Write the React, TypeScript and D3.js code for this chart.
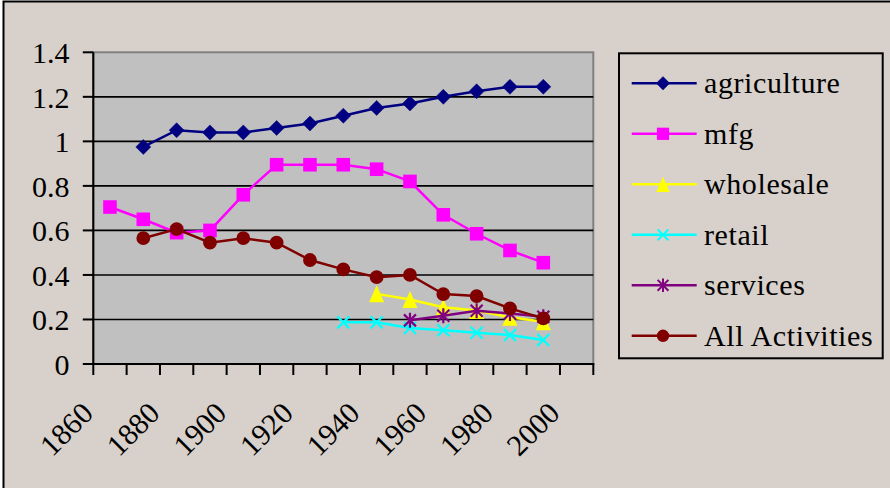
import React from "react";
import * as d3 from "d3";

const years = [1860, 1870, 1880, 1890, 1900, 1910, 1920, 1930, 1940, 1950, 1960, 1970, 1980, 1990, 2000];
const agriculture = [null, 0.975, 1.05, 1.04, 1.04, 1.06, 1.08, 1.115, 1.15, 1.17, 1.2, 1.225, 1.245, 1.245, null];
const mfg = [0.705, 0.65, 0.59, 0.6, 0.76, 0.895, 0.895, 0.895, 0.875, 0.82, 0.67, 0.585, 0.51, 0.455, null];
const wholesale = [null, null, null, null, null, null, null, null, 0.315, 0.29, 0.255, 0.24, 0.21, 0.19, null];
const retail = [null, null, null, null, null, null, null, 0.187, 0.187, 0.162, 0.152, 0.14, 0.13, 0.108, null];
const services = [null, null, null, null, null, null, null, null, null, 0.196, 0.217, 0.239, 0.227, 0.212, null];
const allActivities = [null, 0.565, 0.606, 0.545, 0.565, 0.545, 0.467, 0.425, 0.39, 0.4, 0.314, 0.305, 0.25, 0.205, null];
const yTicks = [0, 0.2, 0.4, 0.6, 0.8, 1, 1.2, 1.4];
const xLabelYears = [1860, 1880, 1900, 1920, 1940, 1960, 1980, 2000];

type Marker = "diamond" | "square" | "triangle" | "x" | "asterisk" | "circle";
const series: { name: string; values: (number | null)[]; color: string; marker: Marker }[] = [
  { name: "agriculture", values: agriculture, color: "#000080", marker: "diamond" },
  { name: "mfg", values: mfg, color: "#FF00FF", marker: "square" },
  { name: "wholesale", values: wholesale, color: "#FFFF00", marker: "triangle" },
  { name: "retail", values: retail, color: "#00FFFF", marker: "x" },
  { name: "services", values: services, color: "#800080", marker: "asterisk" },
  { name: "All Activities", values: allActivities, color: "#800000", marker: "circle" },
];

const W = 890;
const H = 488;
const plot = { left: 93.3, right: 593.3, top: 52.3, bottom: 364 };
const FONT = "Liberation Serif";
const BG = "#D8D0CA";
const textStyle = { fontFamily: FONT };

const x = d3.scaleBand<number>().domain(years).range([plot.left, plot.right]).paddingInner(0).paddingOuter(0);
const cx = (yr: number) => (x(yr) as number) + x.bandwidth() / 2;
const y = d3.scaleLinear().domain([0, 1.4]).range([plot.bottom, plot.top]);

function MarkerShape({ type, color, px, py, s = 1 }: { type: Marker; color: string; px: number; py: number; s?: number }) {
  const t = `translate(${px},${py}) scale(${s})`;
  switch (type) {
    case "diamond":
      return <path transform={t} d="M0,-7.5L7.5,0L0,7.5L-7.5,0Z" fill={color} stroke={color} strokeWidth={0.5} />;
    case "square":
      return <path transform={t} d={d3.symbol().type(d3.symbolSquare).size(185)() || ""} fill={color} />;
    case "circle":
      return <path transform={t} d={d3.symbol().type(d3.symbolCircle).size(150)() || ""} fill={color} />;
    case "triangle":
      return <path transform={t} d="M0,-8.5L7.5,8.5L-7.5,8.5Z" fill={color} />;
    case "x":
      return <path transform={t} d="M-6,-6L6,6M-6,6L6,-6" stroke={color} strokeWidth={2.2} fill="none" />;
    case "asterisk":
      return <path transform={t} d="M-6,-6L6,6M-6,6L6,-6M0,-7.5L0,7.5" stroke={color} strokeWidth={2.2} fill="none" />;
  }
}

export default function App() {
  const line = d3
    .line<[number, number | null]>()
    .defined((d) => d[1] !== null)
    .x((d) => cx(d[0]))
    .y((d) => y(d[1] as number));

  const legend = { x: 619, y: 53.3, w: 263.7, h: 305, row0: 83.3, step: 50.5 };

  return (
    <div style={{ position: "absolute", left: 0, top: 0, width: W, height: H, background: "#fff" }}>
      <svg width={W} height={H} style={{ display: "block" }}>
        <rect x={3.5} y={1.5} width={W + 10} height={H + 10} fill={BG} stroke="#000" strokeWidth={2} />
        {/* plot area */}
        <rect x={plot.left} y={plot.top} width={plot.right - plot.left} height={plot.bottom - plot.top} fill="#C0C0C0" stroke="#808080" strokeWidth={2} />
        {/* grid lines */}
        {yTicks.filter((v) => v > 0 && v < 1.4).map((v) => (
          <line key={v} x1={plot.left} x2={plot.right} y1={y(v)} y2={y(v)} stroke="#000" strokeWidth={1.6} />
        ))}
        {/* y axis */}
        <line x1={plot.left} x2={plot.left} y1={plot.top} y2={plot.bottom} stroke="#000" strokeWidth={2} />
        {yTicks.map((v) => (
          <g key={v}>
            <line x1={plot.left - 10.5} x2={plot.left} y1={y(v)} y2={y(v)} stroke="#000" strokeWidth={2} />
            <text x={69.5} y={y(v) + 11} textAnchor="end" fontSize={30} fill="#000" style={textStyle}>
              {d3.format("~g")(v)}
            </text>
          </g>
        ))}
        {/* x axis */}
        <line x1={plot.left} x2={plot.right + 1} y1={plot.bottom} y2={plot.bottom} stroke="#000" strokeWidth={2} />
        {years.concat([2010]).map((yr, i) => {
          const tx = plot.left + i * x.bandwidth();
          return <line key={yr} x1={tx} x2={tx} y1={plot.bottom} y2={plot.bottom + 11} stroke="#000" strokeWidth={2} />;
        })}
        {xLabelYears.map((yr) => {
          const tx = (x(yr) as number) + 1.5;
          const ty = 415;
          return (
            <text key={yr} x={tx} y={ty} textAnchor="end" fontSize={30} transform={`rotate(-45,${tx},${ty})`} fill="#000" style={textStyle}>
              {yr}
            </text>
          );
        })}
        {/* series */}
        {series.map((s) => {
          const pts = years.map((yr, i) => [yr, s.values[i]] as [number, number | null]);
          return (
            <g key={s.name}>
              <path d={line(pts) || ""} fill="none" stroke={s.color} strokeWidth={2.5} />
              {pts
                .filter((p) => p[1] !== null)
                .map((p) => (
                  <MarkerShape key={p[0]} type={s.marker} color={s.color} px={cx(p[0])} py={y(p[1] as number)} />
                ))}
            </g>
          );
        })}
        {/* legend */}
        <rect x={legend.x} y={legend.y} width={legend.w} height={legend.h} fill="none" stroke="#000" strokeWidth={2} />
        {series.map((s, i) => {
          const ry = legend.row0 + i * legend.step;
          return (
            <g key={s.name}>
              <line x1={631.7} x2={696.7} y1={ry} y2={ry} stroke={s.color} strokeWidth={2.5} />
              <MarkerShape type={s.marker} color={s.color} px={663} py={ry} s={0.9} />
              <text x={704} y={ry + 10} fontSize={30} letterSpacing={0.6} fill="#000" style={textStyle}>
                {s.name}
              </text>
            </g>
          );
        })}
      </svg>
    </div>
  );
}
